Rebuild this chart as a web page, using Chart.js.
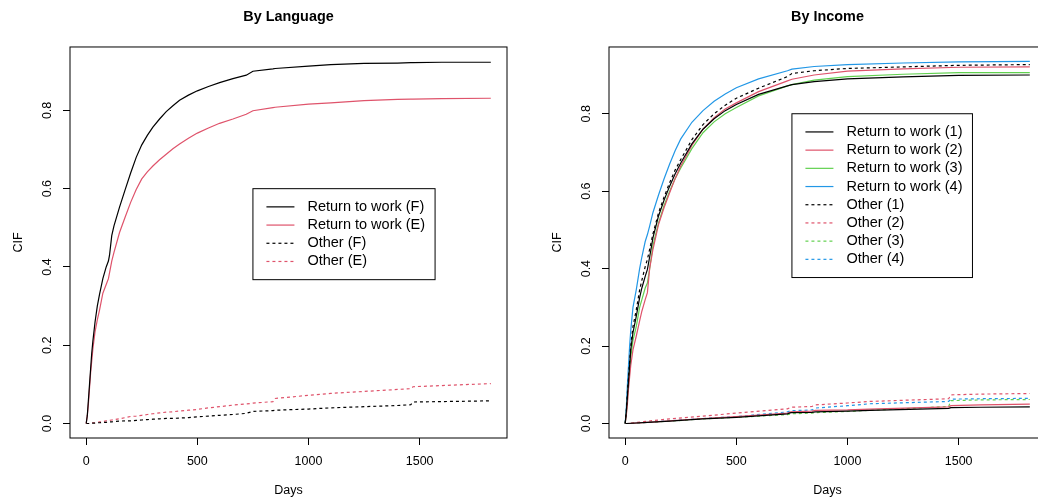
<!DOCTYPE html>
<html>
<head>
<meta charset="utf-8">
<script src="https://cdn.jsdelivr.net/npm/chart.js@4"></script>
<style>
    html, body { margin: 0; padding: 0; background: #fff; overflow: hidden; width: 1038px; height: 502px; }
    canvas { position: absolute; top: 0; }
</style>
</head>
<body>
<canvas id="languageChart" width="519" height="502" style="left:0"></canvas>
<canvas id="incomeChart" width="519" height="502" style="left:539px"></canvas>
<script>
// tick labels
const xTicks = [0, 500, 1000, 1500];
const yTicks = [0, 0.2, 0.4, 0.6, 0.8];

// By Language
const langDays = [0, 5, 10, 15, 20, 25, 30, 40, 50, 60, 75, 90, 100, 105, 115, 125, 150, 175, 200, 225, 250, 275, 300, 330, 360, 390, 420, 460, 500, 550, 600, 660, 720, 750, 840, 850, 1000, 1100, 1250, 1400, 1460, 1470, 1600, 1820];
const rtwF   = [0, 0.02, 0.06, 0.10, 0.14, 0.18, 0.21, 0.26, 0.30, 0.33, 0.37, 0.40, 0.415, 0.43, 0.48, 0.505, 0.553, 0.597, 0.640, 0.680, 0.712, 0.736, 0.757, 0.778, 0.797, 0.812, 0.826, 0.839, 0.850, 0.861, 0.871, 0.881, 0.890, 0.900, 0.906, 0.907, 0.913, 0.917, 0.920, 0.921, 0.922, 0.922, 0.923, 0.923];
const rtwE   = [0, 0.02, 0.05, 0.09, 0.13, 0.16, 0.19, 0.235, 0.265, 0.29, 0.333, 0.355, 0.37, 0.385, 0.415, 0.437, 0.488, 0.527, 0.565, 0.598, 0.625, 0.643, 0.658, 0.674, 0.688, 0.702, 0.714, 0.729, 0.742, 0.755, 0.767, 0.778, 0.790, 0.799, 0.807, 0.808, 0.816, 0.819, 0.825, 0.828, 0.829, 0.829, 0.830, 0.831];
const otherF = [0, 0, 0, 0, 0.001, 0.001, 0.001, 0.001, 0.002, 0.002, 0.003, 0.003, 0.004, 0.004, 0.004, 0.005, 0.006, 0.007, 0.007, 0.008, 0.009, 0.010, 0.011, 0.012, 0.013, 0.013, 0.014, 0.015, 0.017, 0.019, 0.021, 0.023, 0.026, 0.031, 0.033, 0.034, 0.037, 0.040, 0.043, 0.046, 0.048, 0.055, 0.056, 0.058];
const otherE = [0, 0, 0, 0, 0.001, 0.001, 0.002, 0.002, 0.003, 0.004, 0.005, 0.007, 0.008, 0.008, 0.009, 0.010, 0.012, 0.015, 0.018, 0.019, 0.021, 0.023, 0.025, 0.027, 0.029, 0.030, 0.032, 0.034, 0.036, 0.040, 0.043, 0.047, 0.050, 0.052, 0.056, 0.064, 0.072, 0.077, 0.082, 0.087, 0.089, 0.094, 0.097, 0.102];

// By Income, upper curves
const incDays  = [0, 5, 10, 15, 20, 25, 35, 50, 65, 75, 90, 100, 110, 125, 150, 175, 200, 225, 250, 300, 350, 400, 450, 500, 600, 730, 750, 850, 1000, 1250, 1500, 1820];
const rtw1     = [0, 0.03, 0.07, 0.11, 0.15, 0.19, 0.235, 0.277, 0.325, 0.35, 0.38, 0.398, 0.43, 0.48, 0.536, 0.577, 0.613, 0.645, 0.673, 0.722, 0.760, 0.787, 0.808, 0.824, 0.850, 0.872, 0.875, 0.883, 0.890, 0.895, 0.899, 0.900];
const rtw1Dash = [0, 0.03, 0.08, 0.12, 0.16, 0.20, 0.25, 0.294, 0.345, 0.37, 0.405, 0.424, 0.45, 0.49, 0.544, 0.585, 0.622, 0.655, 0.682, 0.733, 0.772, 0.800, 0.822, 0.840, 0.866, 0.896, 0.904, 0.911, 0.917, 0.921, 0.925, 0.927];
const rtw2     = [0, 0.02, 0.05, 0.09, 0.12, 0.15, 0.19, 0.226, 0.265, 0.29, 0.32, 0.338, 0.40, 0.45, 0.514, 0.558, 0.596, 0.633, 0.665, 0.718, 0.760, 0.790, 0.812, 0.828, 0.857, 0.885, 0.889, 0.900, 0.910, 0.916, 0.920, 0.921];
const rtw3     = [0, 0.025, 0.06, 0.10, 0.135, 0.17, 0.215, 0.251, 0.30, 0.32, 0.35, 0.363, 0.40, 0.46, 0.518, 0.563, 0.600, 0.633, 0.660, 0.710, 0.751, 0.779, 0.800, 0.816, 0.846, 0.872, 0.875, 0.887, 0.896, 0.902, 0.906, 0.906];
const rtw4     = [0, 0.04, 0.10, 0.15, 0.20, 0.24, 0.30, 0.346, 0.40, 0.43, 0.47, 0.488, 0.51, 0.545, 0.590, 0.632, 0.670, 0.705, 0.735, 0.778, 0.808, 0.832, 0.851, 0.867, 0.890, 0.911, 0.915, 0.922, 0.927, 0.931, 0.934, 0.935];

// By Income, lower curves
const othDays    = [0, 10, 100, 200, 350, 500, 730, 745, 840, 855, 1000, 1100, 1455, 1465, 1600, 1820];
const other1     = [0, 0, 0.003, 0.006, 0.012, 0.016, 0.025, 0.028, 0.029, 0.030, 0.032, 0.034, 0.039, 0.041, 0.042, 0.043];
const other2     = [0, 0, 0.003, 0.007, 0.013, 0.018, 0.027, 0.030, 0.032, 0.034, 0.035, 0.037, 0.043, 0.046, 0.048, 0.050];
const other2Dash = [0, 0, 0.006, 0.012, 0.019, 0.027, 0.038, 0.042, 0.044, 0.048, 0.053, 0.057, 0.064, 0.074, 0.076, 0.0775];
const other3Dash = [0, 0, 0.003, 0.006, 0.012, 0.016, 0.023, 0.025, 0.027, 0.028, 0.031, 0.034, 0.044, 0.059, 0.061, 0.062];
const other4Dash = [0, 0, 0.003, 0.007, 0.013, 0.018, 0.030, 0.033, 0.035, 0.040, 0.046, 0.051, 0.057, 0.063, 0.064, 0.065];

const BLACK = "#000000", RED = "#DF536B", GREEN = "#61D04F", BLUE = "#2297E6";
const DASH = [3, 3];
const FONT = '"Liberation Sans", Arial, Helvetica, sans-serif';

Chart.defaults.font.family = FONT;
Chart.defaults.color = "#000";

function series(label, days, vals, color, dash) {
    return {
        label: label,
        data: days.map((d, i) => ({ x: d, y: vals[i] })),
        borderColor: color,
        borderWidth: 1.2,
        borderDash: dash || [],
        pointRadius: 0,
        fill: false,
        tension: 0
    };
}

// R style axis range: data range plus 4% each side
function rRange(lo, hi) {
    const d = (hi - lo) * 0.04;
    return [lo - d, hi + d];
}

// box round the plot region
const frameBox = {
    id: "frameBox",
    afterDatasetsDraw(chart) {
        const { ctx, chartArea: a } = chart;
        ctx.save();
        ctx.strokeStyle = "#000";
        ctx.lineWidth = 1;
        ctx.strokeRect(a.left, a.top, a.right - a.left, a.bottom - a.top);
        ctx.restore();
    }
};

// legend placed at data coordinates, like legend(x, y, ...) in R
const insetLegend = {
    id: "insetLegend",
    afterDraw(chart, args, opts) {
        if (!opts.items) return;
        const { ctx, scales } = chart;
        const left = scales.x.getPixelForValue(opts.x);
        const top = scales.y.getPixelForValue(opts.y);
        const rowH = 18.2;
        ctx.save();
        ctx.font = "14.5px " + FONT;
        const textW = Math.max(...opts.items.map(it => ctx.measureText(it.text).width));
        const w = 54.5 + textW + 10;
        const h = rowH * (opts.items.length + 1);
        ctx.fillStyle = "#fff";
        ctx.fillRect(left, top, w, h);
        ctx.strokeStyle = "#000";
        ctx.lineWidth = 1;
        ctx.strokeRect(left, top, w, h);
        opts.items.forEach((it, i) => {
            const y = top + rowH * (i + 1);
            ctx.beginPath();
            ctx.setLineDash(it.dash || []);
            ctx.strokeStyle = it.color;
            ctx.lineWidth = 1.2;
            ctx.moveTo(left + 13.5, y);
            ctx.lineTo(left + 41.5, y);
            ctx.stroke();
            ctx.setLineDash([]);
            ctx.fillStyle = "#000";
            ctx.textAlign = "left";
            ctx.textBaseline = "middle";
            ctx.fillText(it.text, left + 54.5, y);
        });
        ctx.restore();
    }
};

function makeChart(id, title, datasets, yMax, legend) {
    const xr = rRange(0, 1820);
    const yr = rRange(0, yMax);
    const tickGrid = { drawOnChartArea: false, drawTicks: true, tickLength: 7, color: "#000", lineWidth: 1 };
    return new Chart(document.getElementById(id), {
        type: "line",
        data: { datasets: datasets },
        options: {
            responsive: false,
            animation: false,
            layout: { padding: { left: 0, right: 12, top: 0, bottom: 0 } },
            plugins: {
                legend: { display: false },
                tooltip: { enabled: false },
                title: {
                    display: true,
                    text: title,
                    fullSize: false,
                    color: "#000",
                    font: { size: 14.4, weight: "bold" },
                    padding: { top: 8.7, bottom: 21 }
                },
                insetLegend: legend
            },
            scales: {
                x: {
                    type: "linear",
                    min: xr[0],
                    max: xr[1],
                    afterBuildTicks: s => { s.ticks = xTicks.map(v => ({ value: v })); },
                    afterFit: s => { s.height = 64; },
                    grid: tickGrid,
                    border: { display: false },
                    ticks: { maxRotation: 0, padding: 9, font: { size: 12.5 }, callback: v => String(v) },
                    title: { display: true, text: "Days", font: { size: 12.5 }, padding: { top: 0, bottom: 4 } }
                },
                y: {
                    type: "linear",
                    min: yr[0],
                    max: yr[1],
                    afterBuildTicks: s => { s.ticks = yTicks.map(v => ({ value: v })); },
                    afterFit: s => { s.width = 70; },
                    grid: tickGrid,
                    border: { display: false },
                    ticks: { minRotation: 90, maxRotation: 90, crossAlign: "center", padding: 7, font: { size: 12.5 }, callback: v => v.toFixed(1) },
                    title: { display: true, text: "CIF", font: { size: 12.5 }, padding: { top: 11, bottom: 0 } }
                }
            }
        },
        plugins: [frameBox, insetLegend]
    });
}

makeChart("languageChart", "By Language", [
    series("Return to work (F)", langDays, rtwF, BLACK),
    series("Return to work (E)", langDays, rtwE, RED),
    series("Other (F)", langDays, otherF, BLACK, DASH),
    series("Other (E)", langDays, otherE, RED, DASH)
], 0.925, {
    x: 750, y: 0.6,
    items: [
        { text: "Return to work (F)", color: BLACK },
        { text: "Return to work (E)", color: RED },
        { text: "Other (F)", color: BLACK, dash: DASH },
        { text: "Other (E)", color: RED, dash: DASH }
    ]
});

makeChart("incomeChart", "By Income", [
    series("Return to work (1)", incDays, rtw1, BLACK),
    series("Return to work (1) dashed", incDays, rtw1Dash, BLACK, DASH),
    series("Return to work (2)", incDays, rtw2, RED),
    series("Return to work (3)", incDays, rtw3, GREEN),
    series("Return to work (4)", incDays, rtw4, BLUE),
    series("Other (1)", othDays, other1, BLACK),
    series("Other (2) solid", othDays, other2, RED),
    series("Other (2)", othDays, other2Dash, RED, DASH),
    series("Other (3)", othDays, other3Dash, GREEN, DASH),
    series("Other (4)", othDays, other4Dash, BLUE, DASH)
], 0.935, {
    x: 750, y: 0.8,
    items: [
        { text: "Return to work (1)", color: BLACK },
        { text: "Return to work (2)", color: RED },
        { text: "Return to work (3)", color: GREEN },
        { text: "Return to work (4)", color: BLUE },
        { text: "Other (1)", color: BLACK, dash: DASH },
        { text: "Other (2)", color: RED, dash: DASH },
        { text: "Other (3)", color: GREEN, dash: DASH },
        { text: "Other (4)", color: BLUE, dash: DASH }
    ]
});
</script>
</body>
</html>
